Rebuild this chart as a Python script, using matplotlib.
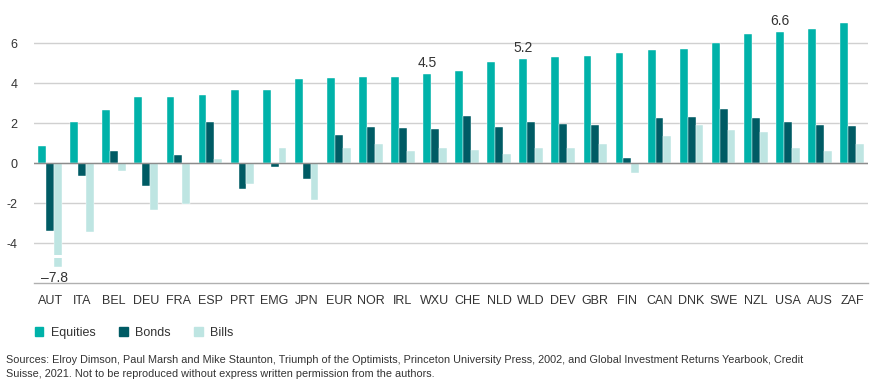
import numpy as np
import matplotlib
matplotlib.use("Agg")
import matplotlib.pyplot as plt
from matplotlib.patches import Patch

##############################################################################
# Data
##############################################################################

countries = ["AUT", "ITA", "BEL", "DEU", "FRA", "ESP", "PRT", "EMG", "JPN",
             "EUR", "NOR", "IRL", "WXU", "CHE", "NLD", "WLD", "DEV", "GBR",
             "FIN", "CAN", "DNK", "SWE", "NZL", "USA", "AUS", "ZAF"]

equities = [0.85, 2.05, 2.63, 3.28, 3.28, 3.42, 3.67, 3.67, 4.2,
            4.23, 4.3, 4.32, 4.45, 4.58, 5.07, 5.2, 5.3, 5.33,
            5.52, 5.65, 5.7, 6.02, 6.43, 6.55, 6.72, 7.02]

bonds = [-3.38, -0.65, 0.6, -1.15, 0.38, 2.03, -1.32, -0.22, -0.82,
         1.42, 1.78, 1.73, 1.7, 2.33, 1.82, 2.07, 1.97, 1.92,
         0.27, 2.25, 2.28, 2.72, 2.23, 2.05, 1.9, 1.87]

bills = [-7.8, -3.43, -0.38, -2.37, -2.07, 0.18, -1.07, 0.75, -1.85,
         0.75, 0.95, 0.62, 0.75, 0.67, 0.43, 0.75, 0.75, 0.97,
         -0.5, 1.37, 1.9, 1.65, 1.57, 0.75, 0.6, 0.97]

# values labelled above / below the bars
labelled_equities = {"WXU": "4.5", "WLD": "5.2", "USA": "6.6"}
bills_cut = -5.2          # axis is broken here for AUT bills

##############################################################################
# Plot
##############################################################################

plt.rcParams["font.family"] = ["Liberation Sans", "DejaVu Sans"]
plt.rcParams["axes.unicode_minus"] = False

c_eq = "#00b2a9"
c_bond = "#005b64"
c_bill = "#bee5e2"
text_col = "#333333"

fig = plt.figure(figsize=(8.71, 3.92), dpi=100)
ax = fig.add_axes([34 / 871, (392 - 283) / 392, 834 / 871, 270 / 392])

x = np.arange(len(countries))
w = 0.245

bills_shown = np.maximum(np.array(bills), bills_cut)

ax.bar(x - w, equities, w, color=c_eq, edgecolor="white", linewidth=0.3, zorder=3)
ax.bar(x, bonds, w, color=c_bond, edgecolor="white", linewidth=0.3, zorder=3)
ax.bar(x + w, bills_shown, w, color=c_bill, edgecolor="white", linewidth=0.3, zorder=3)

# axis break on the clipped bills bar
for i, v in enumerate(bills):
    if v < bills_cut:
        ax.bar(x[i] + w, -0.16, w * 1.3, bottom=-4.6, color="white", zorder=4)
        ax.annotate("\u2013" + f"{abs(v):.1f}", (x[i] + w * 0.6, bills_cut),
                    xytext=(0, -3), textcoords="offset points",
                    ha="center", va="top", fontsize=10, color=text_col)

for i, c in enumerate(countries):
    if c in labelled_equities:
        ax.annotate(labelled_equities[c], (x[i] - w, equities[i]),
                    xytext=(0, 3), textcoords="offset points",
                    ha="center", va="bottom", fontsize=10, color=text_col)

ax.set_xlim(-0.5, len(countries) - 0.5)
ax.set_ylim(-6, 7.5)
ax.set_yticks([-4, -2, 0, 2, 4, 6])
ax.set_xticks(x)
ax.set_xticklabels(countries)
ax.tick_params(axis="both", length=0, labelsize=9, colors=text_col)
ax.tick_params(axis="x", pad=9)
ax.tick_params(axis="y", pad=12)

ax.grid(axis="y", color="#d0d0d0", linewidth=1, zorder=0)
ax.axhline(0, color="#8c8c8c", linewidth=1, zorder=5)
for s in ["top", "right", "left"]:
    ax.spines[s].set_visible(False)
ax.spines["bottom"].set_color("#b0b0b0")
ax.spines["bottom"].set_linewidth(1)

handles = [Patch(color=c_eq, label="Equities"),
           Patch(color=c_bond, label="Bonds"),
           Patch(color=c_bill, label="Bills")]
fig.legend(handles=handles, loc="center left", bbox_to_anchor=(24 / 871, 1 - 333 / 392),
           ncol=3, frameon=False, fontsize=9, handlelength=0.65, handleheight=0.65,
           handletextpad=0.6, columnspacing=1.9, labelcolor=text_col)

fig.text(6 / 871, 1 - 367 / 392,
         "Sources: Elroy Dimson, Paul Marsh and Mike Staunton, Triumph of the Optimists, "
         "Princeton University Press, 2002, and Global Investment Returns Yearbook, Credit\n"
         "Suisse, 2021. Not to be reproduced without express written permission from the authors.",
         fontsize=7.8, color=text_col, ha="left", va="center", linespacing=1.4)

fig.savefig("out.png", dpi=100)
